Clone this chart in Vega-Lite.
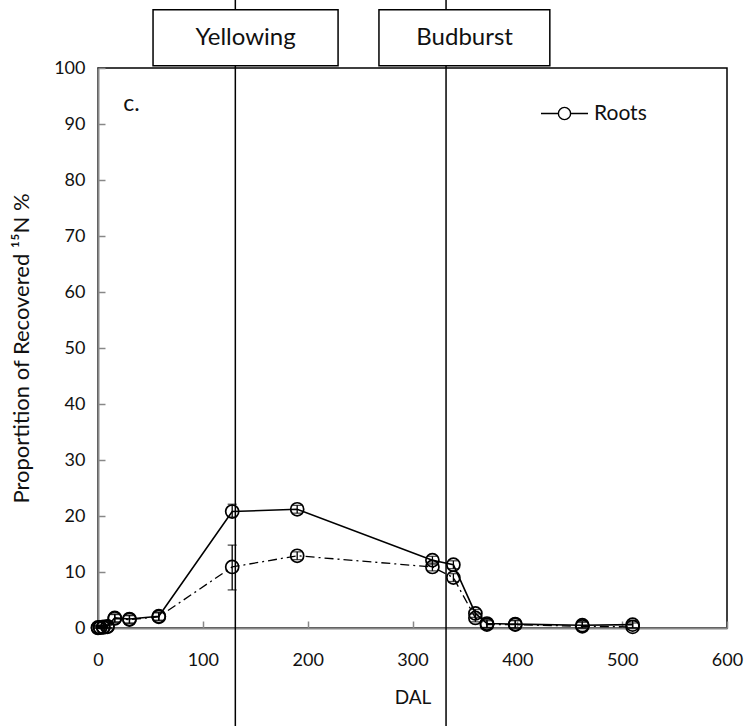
{
  "$schema": "https://vega.github.io/schema/vega-lite/v6.json",
  "width": 629,
  "height": 560,
  "autosize": "none",
  "padding": {"left": 98, "top": 68, "right": 23, "bottom": 98},
  "background": "white",
  "config": {
    "font": "Lato",
    "view": {"stroke": "black", "strokeWidth": 1.5},
    "axis": {
      "domainColor": "#888888", "domainWidth": 2,
      "tickColor": "#888888", "tickWidth": 1.5, "tickSize": -7,
      "grid": false, "labelFlush": false,
      "labelFont": "Lato", "labelFontSize": 18, "labelColor": "#111111",
      "titleFont": "Lato", "titleFontWeight": "normal", "titleColor": "#111111"
    }
  },
  "datasets": {
    "pts": [
      {"dal": 0, "value": 0.1, "lo": 0.0, "hi": 0.4, "series": "Roots"},
      {"dal": 2, "value": 0.1, "lo": 0.0, "hi": 0.4, "series": "Roots"},
      {"dal": 5, "value": 0.2, "lo": 0.0, "hi": 0.5, "series": "Roots"},
      {"dal": 9, "value": 0.3, "lo": 0.0, "hi": 0.6, "series": "Roots"},
      {"dal": 16, "value": 1.8, "lo": 1.1, "hi": 2.5, "series": "Roots"},
      {"dal": 30, "value": 1.6, "lo": 0.9, "hi": 2.3, "series": "Roots"},
      {"dal": 58, "value": 2.1, "lo": 1.4, "hi": 2.8, "series": "Roots"},
      {"dal": 128, "value": 20.8, "lo": 19.8, "hi": 22.1, "series": "Roots"},
      {"dal": 190, "value": 21.2, "lo": 20.5, "hi": 21.9, "series": "Roots"},
      {"dal": 319, "value": 12.1, "lo": 11.4, "hi": 12.8, "series": "Roots"},
      {"dal": 339, "value": 11.3, "lo": 10.6, "hi": 12.0, "series": "Roots"},
      {"dal": 360, "value": 2.6, "lo": 1.9, "hi": 3.3, "series": "Roots"},
      {"dal": 371, "value": 0.8, "lo": 0.1, "hi": 1.5, "series": "Roots"},
      {"dal": 398, "value": 0.7, "lo": 0.0, "hi": 1.4, "series": "Roots"},
      {"dal": 462, "value": 0.5, "lo": 0.0, "hi": 1.2, "series": "Roots"},
      {"dal": 510, "value": 0.6, "lo": 0.0, "hi": 1.3, "series": "Roots"},
      {"dal": 0, "value": 0.0, "lo": 0.0, "hi": 0.3, "series": "Other"},
      {"dal": 2, "value": 0.1, "lo": 0.0, "hi": 0.4, "series": "Other"},
      {"dal": 5, "value": 0.1, "lo": 0.0, "hi": 0.4, "series": "Other"},
      {"dal": 9, "value": 0.2, "lo": 0.0, "hi": 0.5, "series": "Other"},
      {"dal": 16, "value": 1.7, "lo": 1.0, "hi": 2.4, "series": "Other"},
      {"dal": 30, "value": 1.5, "lo": 0.8, "hi": 2.2, "series": "Other"},
      {"dal": 58, "value": 2.0, "lo": 1.3, "hi": 2.7, "series": "Other"},
      {"dal": 128, "value": 10.9, "lo": 6.8, "hi": 14.8, "series": "Other"},
      {"dal": 190, "value": 12.9, "lo": 12.2, "hi": 13.6, "series": "Other"},
      {"dal": 319, "value": 10.9, "lo": 10.2, "hi": 11.6, "series": "Other"},
      {"dal": 339, "value": 9.0, "lo": 8.3, "hi": 9.7, "series": "Other"},
      {"dal": 360, "value": 1.8, "lo": 1.1, "hi": 2.5, "series": "Other"},
      {"dal": 371, "value": 0.6, "lo": 0.0, "hi": 1.3, "series": "Other"},
      {"dal": 398, "value": 0.6, "lo": 0.0, "hi": 1.3, "series": "Other"},
      {"dal": 462, "value": 0.3, "lo": 0.0, "hi": 1.0, "series": "Other"},
      {"dal": 510, "value": 0.2, "lo": 0.0, "hi": 0.9, "series": "Other"}
    ],
    "events": [
      {"event": "Yellowing", "dal": 131, "top": 113, "bottom": -18, "x1": 52.5, "x2": 229, "y1": 100.4, "y2": 110.4, "tx": 140.7, "ty": 105.4},
      {"event": "Budburst", "dal": 332, "top": 113, "bottom": -18, "x1": 268, "x2": 431, "y1": 100.4, "y2": 110.4, "tx": 349.7, "ty": 105.4}
    ],
    "panel": [{"label": "c.", "dal": 24, "value": 93.6}]
  },
  "layer": [
    {
      "data": {"name": "pts"},
      "transform": [{"filter": "datum.series === 'Other'"}],
      "mark": {"type": "line", "color": "black", "strokeWidth": 1.3, "strokeDash": [9, 4, 2, 4]},
      "encoding": {
        "x": {"field": "dal", "type": "quantitative", "scale": {"domain": [0, 600], "nice": false}, "axis": {"title": "DAL", "values": [0,100,200,300,400,500,600], "titleFontSize": 19, "titlePadding": 19, "labelPadding": 30}},
        "y": {"field": "value", "type": "quantitative", "scale": {"domain": [0, 100], "nice": false}, "axis": {"title": "Proportition of Recovered ¹⁵N %", "values": [0,10,20,30,40,50,60,70,80,90,100], "titleFontSize": 22, "titlePadding": 20, "labelPadding": 20}}
      }
    },
    {
      "data": {"name": "pts"},
      "transform": [{"filter": "datum.series === 'Roots'"}],
      "mark": {"type": "line", "strokeWidth": 1.6},
      "encoding": {
        "x": {"field": "dal", "type": "quantitative"},
        "y": {"field": "value", "type": "quantitative"},
        "color": {"field": "series", "type": "nominal", "scale": {"domain": ["Roots"], "range": ["black"]},
          "legend": {"title": null, "orient": "none", "legendX": 442, "legendY": 21, "symbolType": "M-1,0H-0.26M0.26,0H1M0.26,0A0.26,0.26,0,1,1,-0.26,0A0.26,0.26,0,1,1,0.26,0", "symbolSize": 2209, "symbolStrokeWidth": 1.4, "symbolStrokeColor": "black", "symbolFillColor": "transparent", "labelFontSize": 21, "labelFont": "Lato", "labelColor": "#111111", "labelOffset": 5}}
      }
    },
    {
      "data": {"name": "pts"},
      "mark": {"type": "rule", "color": "black", "strokeWidth": 1.3},
      "encoding": {
        "x": {"field": "dal", "type": "quantitative"},
        "y": {"field": "lo", "type": "quantitative"},
        "y2": {"field": "hi"}
      }
    },
    {
      "data": {"name": "pts"},
      "mark": {"type": "tick", "orient": "horizontal", "color": "black", "thickness": 1.3, "size": 9},
      "encoding": {
        "x": {"field": "dal", "type": "quantitative"},
        "y": {"field": "lo", "type": "quantitative"}
      }
    },
    {
      "data": {"name": "pts"},
      "mark": {"type": "tick", "orient": "horizontal", "color": "black", "thickness": 1.3, "size": 9},
      "encoding": {
        "x": {"field": "dal", "type": "quantitative"},
        "y": {"field": "hi", "type": "quantitative"}
      }
    },
    {
      "data": {"name": "pts"},
      "mark": {"type": "point", "shape": "circle", "size": 170, "filled": false, "stroke": "black", "strokeWidth": 1.7, "opacity": 1},
      "encoding": {
        "x": {"field": "dal", "type": "quantitative"},
        "y": {"field": "value", "type": "quantitative"}
      }
    },
    {
      "data": {"name": "events"},
      "mark": {"type": "rule", "color": "black", "strokeWidth": 1.5},
      "encoding": {
        "x": {"field": "dal", "type": "quantitative"},
        "y": {"field": "bottom", "type": "quantitative"},
        "y2": {"field": "top"}
      }
    },
    {
      "data": {"name": "events"},
      "mark": {"type": "rect", "fill": "white", "stroke": "black", "strokeWidth": 1.5},
      "encoding": {
        "x": {"field": "x1", "type": "quantitative"},
        "x2": {"field": "x2"},
        "y": {"field": "y1", "type": "quantitative"},
        "y2": {"field": "y2"}
      }
    },
    {
      "data": {"name": "events"},
      "mark": {"type": "text", "fontSize": 24, "font": "Lato", "color": "#111111", "align": "center", "baseline": "middle"},
      "encoding": {
        "x": {"field": "tx", "type": "quantitative"},
        "y": {"field": "ty", "type": "quantitative"},
        "text": {"field": "event"}
      }
    },
    {
      "data": {"name": "panel"},
      "mark": {"type": "text", "fontSize": 23, "font": "Lato", "color": "#111111", "align": "left", "baseline": "middle"},
      "encoding": {
        "x": {"field": "dal", "type": "quantitative"},
        "y": {"field": "value", "type": "quantitative"},
        "text": {"field": "label"}
      }
    }
  ]
}
